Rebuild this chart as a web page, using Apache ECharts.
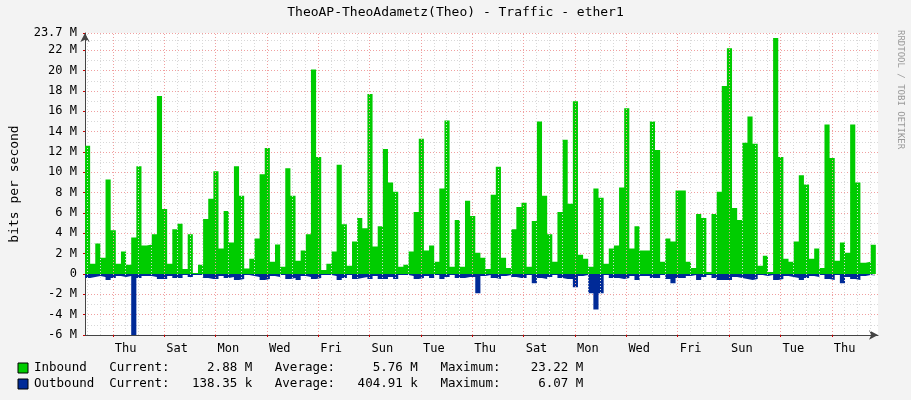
<!DOCTYPE html>
<html><head><meta charset="utf-8">
<script src="https://cdn.jsdelivr.net/npm/echarts@6/dist/echarts.min.js"></script>
<style>html,body{margin:0;padding:0;background:#f3f3f3}#c{width:911px;height:400px}</style>
</head><body><div id="c"></div>
<script>
const dayLabels = ['Thu','Sat','Mon','Wed','Fri','Sun','Tue','Thu','Sat','Mon','Wed','Fri','Sun','Tue','Thu'];
const dayLabelPos = [0.5,2.5,4.5,6.5,8.5,10.5,12.5,14.5,16.5,18.5,20.5,22.5,24.5,26.5,28.5];
const startDay = -1.085;
const stepDays = 0.2;
// Inbound, M bits/s per 4.8h step
const inbound = [12.6,1.0,3.0,1.6,9.3,4.3,1.0,2.2,0.9,3.6,10.6,2.8,2.9,3.9,17.5,6.4,1.0,4.4,4.95,0.5,3.9,0.1,0.9,5.4,7.4,10.1,2.5,6.2,3.1,10.6,7.7,0.55,1.5,3.5,9.8,12.4,1.2,2.9,0.7,10.4,7.7,
1.3,2.3,3.9,20.1,11.5,0.4,1.0,2.2,10.75,4.9,0.8,3.2,5.5,4.5,17.7,2.7,4.7,12.3,9.0,8.1,0.7,0.9,2.2,6.1,13.3,2.3,2.8,1.2,8.4,15.1,0.7,5.3,0.7,7.2,5.7,2.1,1.6,0.5,7.8,
10.55,1.6,0.6,4.4,6.6,7.0,0.7,5.2,15.0,7.7,3.9,1.2,6.1,13.2,6.9,17.0,1.9,1.5,0.7,8.4,7.5,1.0,2.5,2.8,8.5,16.3,2.5,4.7,2.3,2.3,15.0,12.2,1.2,3.5,3.2,8.2,8.2,1.2,
0.6,5.9,5.5,0.2,5.9,8.1,18.5,22.2,6.5,5.3,12.9,15.5,12.8,0.8,1.8,0.2,23.2,11.5,1.5,1.2,3.2,9.7,8.8,1.5,2.5,0.6,14.7,11.4,1.3,3.1,2.1,14.7,9.0,1.1,1.2,2.88];
// Outbound, M bits/s (drawn negative)
const outbound = [0.4,0.3,0.2,0.3,0.6,0.4,0.2,0.3,0.2,6.07,0.4,0.2,0.2,0.3,0.5,0.5,0.2,0.4,0.4,0.1,0.3,0.1,0.1,0.4,0.5,0.5,0.2,0.4,0.3,0.6,0.5,0.1,0.2,0.3,0.6,0.5,0.2,0.3,0.1,0.5,0.4,
0.6,0.2,0.3,0.5,0.4,0.1,0.1,0.2,0.6,0.4,0.1,0.5,0.4,0.3,0.5,0.2,0.5,0.5,0.3,0.5,0.1,0.1,0.2,0.5,0.4,0.2,0.4,0.1,0.5,0.3,0.1,0.4,0.4,0.3,0.3,1.9,0.2,0.1,0.4,
0.5,0.2,0.1,0.3,0.4,0.4,0.1,0.9,0.4,0.5,0.3,0.1,0.4,0.5,0.5,1.3,0.2,0.1,1.9,3.5,1.9,0.1,0.4,0.4,0.5,0.4,0.2,0.6,0.2,0.2,0.4,0.4,0.1,0.5,0.9,0.4,0.4,0.2,
0.1,0.6,0.3,0.1,0.4,0.6,0.6,0.6,0.3,0.4,0.5,0.6,0.5,0.1,0.2,0.1,0.6,0.5,0.2,0.3,0.4,0.6,0.4,0.2,0.3,0.1,0.5,0.6,0.1,0.9,0.3,0.5,0.6,0.2,0.1,0.14];

const M = 1e6;
function stepData(arr, sign){
  const d = arr.map((v,i)=>[startDay+i*stepDays, sign*v*M]);
  d.push([startDay+arr.length*stepDays, sign*arr[arr.length-1]*M]);
  return d;
}
const grayV=[], redV=[];
for(let t=-1;t<=29.5;t+=0.5){ if(t>=0 && t%2===0) redV.push({xAxis:t}); else grayV.push({xAxis:t}); }

const mono = 'DejaVu Sans Mono';
const chart = echarts.init(document.getElementById('c'));
chart.setOption({
  backgroundColor:'#f3f3f3',
  animation:false,
  grid:{left:82,right:33,top:33,bottom:65,show:true,backgroundColor:'#ffffff',borderWidth:0},
  xAxis:{type:'value',min:startDay,max:29.8,
    axisLine:{show:true,onZero:false,lineStyle:{color:'#444',width:1},symbol:['none','arrow'],symbolSize:[7,9]},
    axisTick:{show:true,customValues:dayLabelPos.map(v=>v-0.5),length:2,lineStyle:{color:'#c00'}},
    axisLabel:{customValues:dayLabelPos,formatter:(v)=>dayLabels[dayLabelPos.indexOf(v)]||'',fontFamily:mono,fontSize:12,color:'#000',margin:8},
    splitLine:{show:false}},
  yAxis:{type:'value',min:-6*M,max:23.7*M,interval:2*M,
    axisLine:{show:true,onZero:false,lineStyle:{color:'#444'},symbol:['none','arrow'],symbolSize:[7,9]},
    axisTick:{show:true,length:2,lineStyle:{color:'#c00'}},
    axisLabel:{formatter:v=>v===0?'0':(v/M)+' M',fontFamily:mono,fontSize:12,color:'#000',margin:8},
    splitLine:{show:true,lineStyle:{color:'#f0a0a0',type:[1,2]}},
    minorTick:{show:false,splitNumber:2},
    minorSplitLine:{show:true,lineStyle:{color:'#d8d8d8',type:[1,2]}},
    name:'bits per second',nameLocation:'middle',nameGap:64,nameRotate:90,
    nameTextStyle:{fontFamily:mono,fontSize:13,color:'#000'}},
  series:[
    {type:'line',data:[],silent:true,z:1,markLine:{silent:true,symbol:'none',label:{show:false},animation:false,
      data:[...grayV.map(d=>Object.assign({lineStyle:{color:'#d8d8d8',type:[1,2],width:1}},d)),
            ...redV.map(d=>Object.assign({lineStyle:{color:'#f0a0a0',type:[1,2],width:1}},d))]}},
    {type:'line',data:stepData(inbound,1),step:'end',symbol:'none',z:3,lineStyle:{width:0},areaStyle:{color:'#00cc00',opacity:1}},
    {type:'line',data:stepData(outbound,-1),step:'end',symbol:'none',z:3,lineStyle:{width:0},areaStyle:{color:'#002a97',opacity:1}}
  ],
  graphic:[
    {type:'text',left:'center',top:6,style:{text:'TheoAP-TheoAdametz(Theo) - Traffic - ether1',font:'13px '+mono,fill:'#000'}},
    {type:'text',x:905,y:30,rotation:-Math.PI/2,style:{text:'RRDTOOL / TOBI OETIKER',font:'9px '+mono,fill:'#999'}},
    {type:'rect',shape:{x:18,y:363,width:10,height:10},style:{fill:'#00cc00',stroke:'#000',lineWidth:1}},
    {type:'rect',shape:{x:18,y:379,width:10,height:10},style:{fill:'#002a97',stroke:'#000',lineWidth:1}},
    {type:'text',x:34,y:361,style:{text:'Inbound   Current:     2.88 M   Average:     5.76 M   Maximum:    23.22 M',font:'12.5px '+mono,fill:'#000'}},
    {type:'text',x:34,y:377,style:{text:'Outbound  Current:   138.35 k   Average:   404.91 k   Maximum:     6.07 M',font:'12.5px '+mono,fill:'#000'}}
  ]
});
</script></body></html>
